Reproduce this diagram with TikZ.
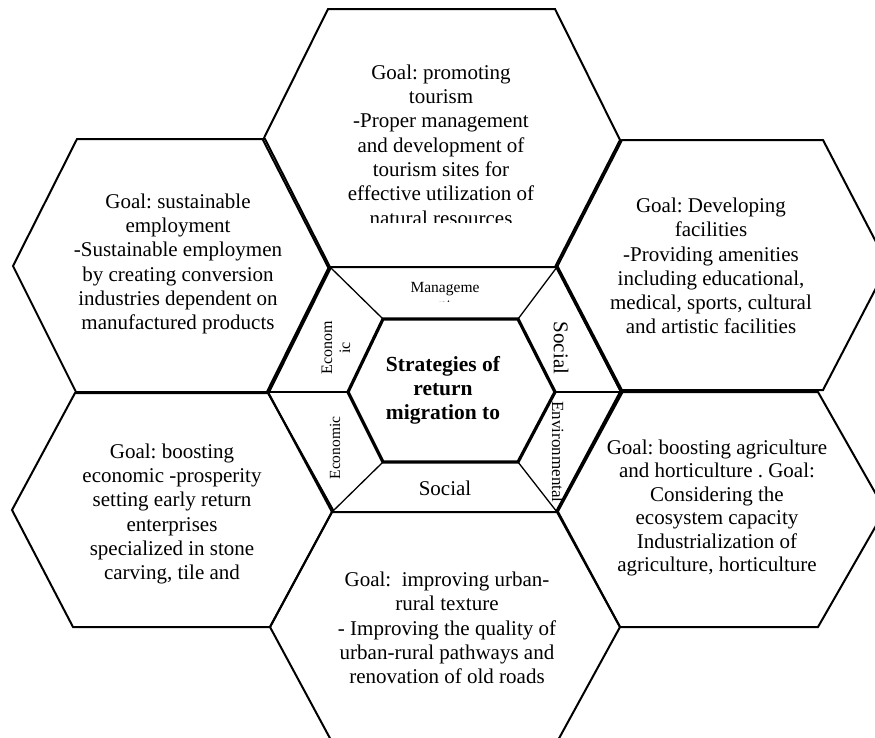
\documentclass[tikz,border=0pt]{standalone}
\usepackage{fontspec}
\setmainfont{Liberation Serif}
\frenchspacing
\begin{document}
\begin{tikzpicture}[x=1pt,y=-1pt,
  hexline/.style={draw=black,line width=2pt,line join=miter},
  innerline/.style={draw=black,line width=3.2pt,line join=miter},
  spoke/.style={draw=black,line width=1.3pt},
  goaltext/.style={align=center,inner sep=0pt,font=\fontsize{21}{24.3}\selectfont},
  ringlabel/.style={align=center,inner sep=0pt}]
\useasboundingbox (0,0) rectangle (875,737);
\clip (0,0) rectangle (875,737);
\fill[white] (0,0) rectangle (875,737);

% surrounding hexagons
\draw[hexline] (263,140) -- (328,9) -- (555,9) -- (620,140) -- (555,267) -- (328,267) -- cycle;
\draw[hexline] (13,266) -- (77,139) -- (265,139) -- (330,267) -- (268,392) -- (76,392) -- cycle;
\draw[hexline] (557,267) -- (622,140) -- (823,140) -- (888,265) -- (823,390) -- (620,390) -- cycle;
\draw[hexline] (12,510) -- (75,393) -- (268,393) -- (333,510) -- (270,627) -- (73,627) -- cycle;
\draw[hexline] (557,510) -- (620,392) -- (818,392) -- (885,510) -- (818,627) -- (620,627) -- cycle;
\draw[hexline] (270,627) -- (332,512) -- (557,512) -- (620,627) -- (557,742) -- (332,742) -- cycle;

% central ring
\coordinate (r1) at (268,392);
\coordinate (r2) at (330,267);
\coordinate (r3) at (557,267);
\coordinate (r4) at (622,392);
\coordinate (r5) at (557,512);
\coordinate (r6) at (332,512);
\coordinate (i1) at (348,392);
\coordinate (i2) at (383,319);
\coordinate (i3) at (518,319);
\coordinate (i4) at (555,392);
\coordinate (i5) at (518,462);
\coordinate (i6) at (383,462);
\draw[draw=black,line width=4pt] (r1) -- (r2);
\draw[draw=black,line width=2.6pt] (r2) -- (r3);
\draw[draw=black,line width=3.6pt] (r3) -- (r4);
\draw[draw=black,line width=3pt] (r4) -- (r5);
\draw[draw=black,line width=2.6pt] (r5) -- (r6);
\draw[draw=black,line width=2pt] (r6) -- (r1);
\draw[spoke] (r1) -- (i1);
\draw[spoke] (r2) -- (i2);
\draw[spoke] (r3) -- (i3);
\draw[spoke] (r4) -- (i4);
\draw[spoke] (r5) -- (i5);
\draw[spoke] (r6) -- (i6);
\draw[innerline] (i1) -- (i2) -- (i3) -- (i4) -- (i5) -- (i6) -- cycle;

% goal texts
\begin{scope}
\clip (263,0) rectangle (620,222);
\node[goaltext] (tTop) at (441,145) {Goal: promoting\\tourism\\-Proper management\\and development of\\tourism sites for\\effective utilization of\\natural resources};
\end{scope}
\node[goaltext] (tTL) at (178,264) {Goal: sustainable\\employment\\-Sustainable employmen\\by creating conversion\\industries dependent on\\manufactured products};
\node[goaltext] (tTR) at (711,266) {Goal: Developing\\facilities\\-Providing amenities\\including educational,\\medical, sports, cultural\\and artistic facilities};
\node[goaltext] (tBL) at (172,514) {Goal: boosting\\economic -prosperity\\setting early return\\enterprises\\specialized in stone\\carving, tile and};
\node[goaltext,font=\fontsize{21}{23.4}\selectfont] (tBR) at (717,508) {Goal: boosting agriculture\\and horticulture . Goal:\\Considering the\\ecosystem capacity\\Industrialization of\\agriculture, horticulture};
\node[goaltext] (tB) at (447,628) {Goal:\ \ improving urban-\\rural texture\\- Improving the quality of\\urban-rural pathways and\\renovation of old roads};

% centre
\node[goaltext,font=\fontsize{21.5}{24}\selectfont\bfseries] (tC) at (443,390) {Strategies of\\return\\migration to};

% ring labels
\begin{scope}
\clip (330,268) rectangle (557,301);
\node[ringlabel,font=\fontsize{15.5}{17}\selectfont] (lTop) at (445,296) {Manageme\\nt};
\end{scope}
\node[ringlabel,font=\fontsize{16}{18}\selectfont,rotate=90] (lUL) at (336,348) {Econom\\ic};
\node[ringlabel,font=\fontsize{15.5}{18}\selectfont,rotate=90] (lLL) at (335,448) {Economic};
\node[ringlabel,font=\fontsize{21}{24}\selectfont,rotate=-90] (lUR) at (561,348) {Social};
\node[ringlabel,font=\fontsize{17}{20}\selectfont,rotate=-90] (lLR) at (558,452) {Environmental};
\node[ringlabel,font=\fontsize{21}{24}\selectfont] (lB) at (445,488) {Social};
\end{tikzpicture}
\end{document}
